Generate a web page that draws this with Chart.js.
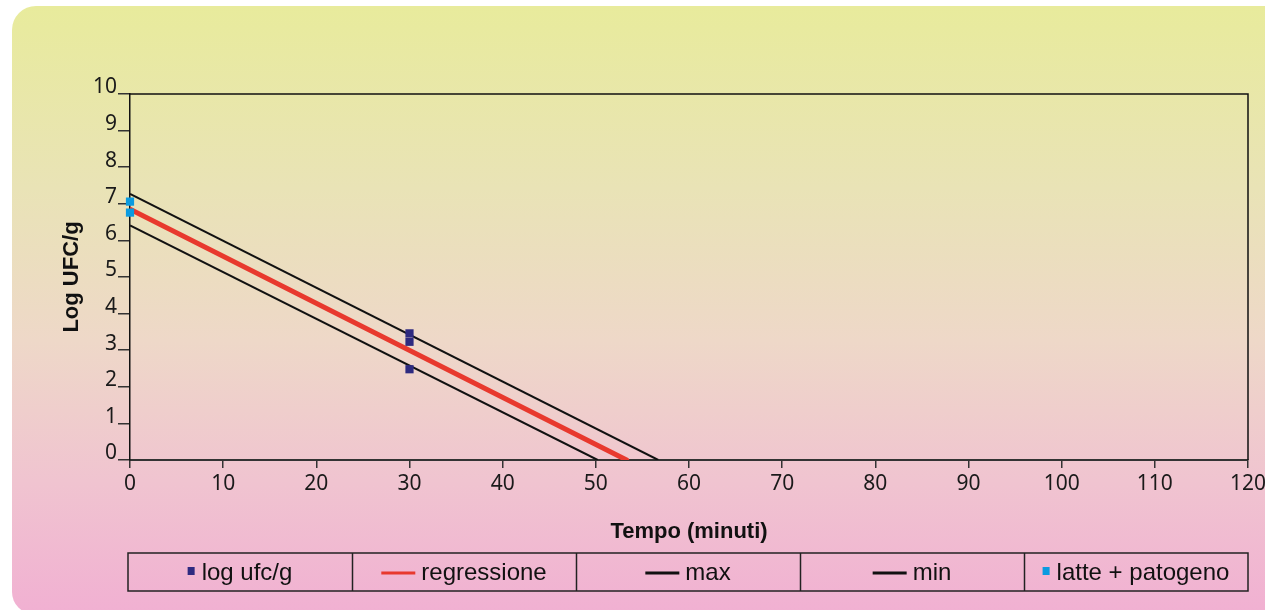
<!DOCTYPE html>
<html>
<head>
<meta charset="utf-8">
<script src="https://cdn.jsdelivr.net/npm/chart.js@4.4.1/dist/chart.umd.min.js"></script>
<style>
  html, body { margin: 0; padding: 0; background: #ffffff; }
  #wrap { position: relative; width: 1265px; height: 610px; overflow: hidden; }
  #panel {
    position: absolute; left: 12px; top: 6px; width: 1280px; height: 608px;
    border-radius: 24px 0 0 22px;
    background: linear-gradient(to bottom, #e8eb9c 0%, #e9e3b6 30%, #eed8c8 55%, #f0c4d0 78%, #f1b0d2 100%);
  }
  #chart { position: absolute; left: 0; top: 0; }
</style>
</head>
<body>
<div id="wrap">
  <div id="panel"></div>
  <canvas id="chart" width="1265" height="610"></canvas>
</div>
<script>
// Values
const xTicks = [0, 10, 20, 30, 40, 50, 60, 70, 80, 90, 100, 110, 120];
const yTicks = [0, 1, 2, 3, 4, 5, 6, 7, 8, 9, 10];

// log ufc/g after 30 minutes
const logUfcX = [30, 30, 30];
const logUfcY = [3.46, 3.23, 2.48];

// latte + patogeno at time 0
const lattePatX = [0, 0];
const lattePatY = [7.06, 6.76];

// regression line and its bounds (start, end where log reaches 0)
const regressioneX = [0, 53.3];
const regressioneY = [6.85, 0];
const maxX = [0, 56.7];
const maxY = [7.27, 0];
const minX = [0, 50.2];
const minY = [6.41, 0];

const toPoints = (xs, ys) => xs.map((x, i) => ({ x: x, y: ys[i] }));

const navy = '#2e2a80';
const red = '#e8392e';
const black = '#111111';
const lightBlue = '#0a9be0';

// Legend drawn as a row of boxed cells under the chart
const cellLegend = {
    id: 'cellLegend',
    afterDraw(chart) {
        const ctx = chart.ctx;
        const left = 128, right = 1248, top = 553, bottom = 591;
        const sets = chart.data.datasets;
        const cellW = (right - left) / sets.length;
        const midY = (top + bottom) / 2 + 1;

        ctx.save();
        ctx.strokeStyle = '#222222';
        ctx.lineWidth = 1.5;
        ctx.strokeRect(left, top, right - left, bottom - top);
        for (let i = 1; i < sets.length; i++) {
            const x = Math.round(left + cellW * i) + 0.5;
            ctx.beginPath();
            ctx.moveTo(x, top);
            ctx.lineTo(x, bottom);
            ctx.stroke();
        }

        ctx.font = '24px "Liberation Sans", Arial, sans-serif';
        ctx.textBaseline = 'middle';
        ctx.textAlign = 'left';
        sets.forEach((ds, i) => {
            const isLine = ds.showLine;
            const markW = isLine ? 34 : 7;
            const gap = isLine ? 6 : 7;
            const textW = ctx.measureText(ds.label).width;
            const total = markW + gap + textW;
            const x0 = left + cellW * i + (cellW - total) / 2;
            if (isLine) {
                ctx.fillStyle = ds.borderColor;
                ctx.fillRect(x0, midY - 1.5, markW, 3);
            } else {
                ctx.fillStyle = ds.backgroundColor;
                ctx.fillRect(x0, midY - 6, markW, 8);
            }
            ctx.fillStyle = '#111111';
            ctx.fillText(ds.label, x0 + markW + gap, midY);
        });
        ctx.restore();
    }
};

// Top and right edges of the plot frame
const plotFrame = {
    id: 'plotFrame',
    beforeDatasetsDraw(chart) {
        const { ctx, chartArea } = chart;
        ctx.save();
        ctx.strokeStyle = '#111111';
        ctx.lineWidth = 1.5;
        ctx.beginPath();
        ctx.moveTo(chartArea.left, chartArea.top);
        ctx.lineTo(chartArea.right, chartArea.top);
        ctx.lineTo(chartArea.right, chartArea.bottom);
        ctx.stroke();
        ctx.restore();
    }
};

new Chart(document.getElementById('chart'), {
    type: 'scatter',
    data: {
        datasets: [
            {
                label: 'log ufc/g',
                data: toPoints(logUfcX, logUfcY),
                pointStyle: 'rect',
                pointRadius: 5.8,
                backgroundColor: navy,
                borderColor: navy,
                borderWidth: 0,
                showLine: false,
                clip: false,
                order: 0
            },
            {
                label: 'regressione',
                data: toPoints(regressioneX, regressioneY),
                showLine: true,
                borderColor: red,
                backgroundColor: red,
                borderWidth: 5,
                pointRadius: 0,
                borderCapStyle: 'round',
                order: 1
            },
            {
                label: 'max',
                data: toPoints(maxX, maxY),
                showLine: true,
                borderColor: black,
                backgroundColor: black,
                borderWidth: 2,
                pointRadius: 0,
                order: 2
            },
            {
                label: 'min',
                data: toPoints(minX, minY),
                showLine: true,
                borderColor: black,
                backgroundColor: black,
                borderWidth: 2,
                pointRadius: 0,
                order: 2
            },
            {
                label: 'latte + patogeno',
                data: toPoints(lattePatX, lattePatY),
                pointStyle: 'rect',
                pointRadius: 5.8,
                backgroundColor: lightBlue,
                borderColor: lightBlue,
                borderWidth: 0,
                showLine: false,
                clip: false,
                order: 0
            }
        ]
    },
    options: {
        responsive: false,
        devicePixelRatio: 1,
        animation: false,
        layout: { padding: { left: 0, top: 94, right: 17, bottom: 65 } },
        plugins: {
            legend: { display: false },
            tooltip: { enabled: false }
        },
        scales: {
            x: {
                type: 'linear',
                min: 0,
                max: 120,
                afterBuildTicks: (scale) => { scale.ticks = xTicks.map(v => ({ value: v })); },
                afterFit: (scale) => {
                    scale.height = 85;
                    scale.paddingLeft = 0;
                    scale.paddingRight = 0;
                },
                border: { display: true, color: '#333333', width: 2 },
                grid: {
                    display: true,
                    drawOnChartArea: false,
                    drawTicks: true,
                    tickLength: 8,
                    color: '#333333',
                    lineWidth: 1.5
                },
                ticks: {
                    color: '#1a1a1a',
                    padding: 3,
                    maxRotation: 0,
                    font: { family: '"Noto Sans", sans-serif', size: 21 }
                },
                title: {
                    display: true,
                    text: 'Tempo (minuti)',
                    color: '#111111',
                    padding: 0,
                    font: { family: '"Liberation Sans", Arial, sans-serif', size: 22, weight: 'bold' }
                }
            },
            y: {
                type: 'linear',
                min: 0,
                max: 10,
                afterBuildTicks: (scale) => { scale.ticks = yTicks.map(v => ({ value: v })); },
                afterFit: (scale) => {
                    scale.width = 130;
                    scale.paddingTop = 0;
                    scale.paddingBottom = 0;
                },
                border: { display: true, color: '#111111', width: 1.5 },
                grid: {
                    display: true,
                    drawOnChartArea: false,
                    drawTicks: true,
                    tickLength: 12,
                    color: '#333333',
                    lineWidth: 1.5
                },
                ticks: {
                    color: '#1a1a1a',
                    padding: 1,
                    labelOffset: -6.5,
                    font: { family: '"Noto Sans", sans-serif', size: 21 }
                },
                title: {
                    display: true,
                    text: 'Log UFC/g',
                    color: '#111111',
                    padding: { top: 59, bottom: 0 },
                    font: { family: '"Liberation Sans", Arial, sans-serif', size: 22, weight: 'bold' }
                }
            }
        }
    },
    plugins: [plotFrame, cellLegend]
});
</script>
</body>
</html>
